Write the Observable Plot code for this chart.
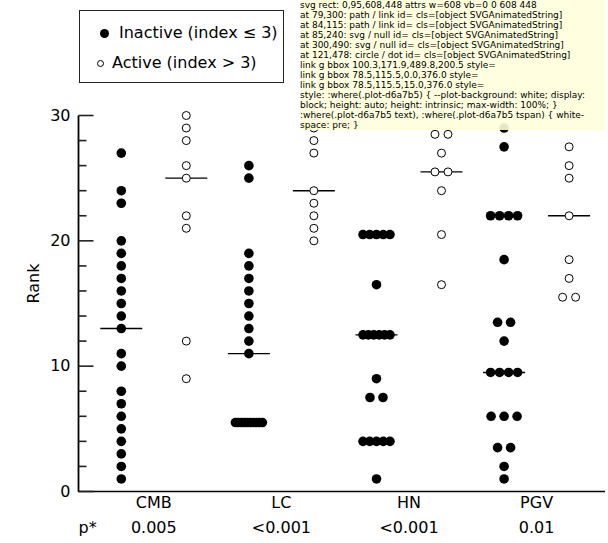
<!DOCTYPE html>
<html>
<head>
<meta charset="utf-8">
<script src="https://cdn.jsdelivr.net/npm/d3@7"></script>
<script src="https://cdn.jsdelivr.net/npm/@observablehq/plot@0.6"></script>
<style>
  html, body { margin: 0; padding: 0; background: #fff; }
  body { width: 608px; height: 543px; overflow: hidden; font-family: "DejaVu Sans", sans-serif; }
  #legend { position: relative; margin: 10px 0 12px 79px; width: 205px; height: 73px; box-sizing: border-box; border: 1px solid #222; }
  #legend .sym { position: absolute; border-radius: 50%; box-sizing: border-box; }
  #legend .lab { position: absolute; font-size: 16px; line-height: 20px; color: #000; white-space: nowrap; }
  #chart svg { display: block; }
  #dbg { position: absolute; left: 300px; top: 0; width: 305px; font-size: 9px; background: rgba(255,255,220,0.9); }
</style>
</head>
<body>
<div id="legend"></div>
<div id="chart"></div>
<div id="dbg"></div>
<script>
// ---- data (ranks) ----
const categories = ["CMB", "LC", "HN", "PGV"];
const pValues = ["0.005", "<0.001", "<0.001", "0.01"];
const statusLabels = ["Inactive (index \u2264 3)", "Active (index > 3)"];

const cmbInactive = [1, 2, 3, 4, 5, 6, 7, 8, 10, 11, 13, 14, 15, 16, 17, 18, 19, 20, 23, 24, 27];
const cmbActive = [9, 12, 21, 22, 25, 26, 28, 29, 30];
const lcInactive = [5.5, 5.5, 5.5, 5.5, 5.5, 5.5, 5.5, 5.5, 5.5, 5.5, 11, 12, 13, 14, 15, 16, 17, 18, 19, 25, 26];
const lcActive = [20, 21, 22, 23, 24, 27, 28, 29, 30];
const hnInactive = [1, 4, 4, 4, 4, 4, 7.5, 7.5, 9, 12.5, 12.5, 12.5, 12.5, 12.5, 12.5, 16.5, 20.5, 20.5, 20.5, 20.5, 20.5];
const hnActive = [16.5, 20.5, 24, 25.5, 25.5, 27, 28.5, 28.5, 30];
const pgvInactive = [1, 2, 3.5, 3.5, 6, 6, 6, 9.5, 9.5, 9.5, 9.5, 12, 13.5, 13.5, 18.5, 22, 22, 22, 22, 27.5, 29];
const pgvActive = [15.5, 15.5, 17, 18.5, 22, 25, 26, 27.5, 30];

const yTicks = [0, 10, 20, 30];
const yMinorTicks = [2, 4, 6, 8, 12, 14, 16, 18, 22, 24, 26, 28];

// ---- layout ----
const W = 608, H = 448;
const mLeft = 78, mRight = 3, mTop = 20, mBottom = 52;
const xDomain = [-0.59, 3.54];
const unit = (W - mLeft - mRight) / (xDomain[1] - xDomain[0]);
const statusOffset = 32.5 / unit;
const medianHalf = 21 / unit;
const majorLen = 15 / unit, minorLen = 8 / unit;

const groups = [
  [cmbInactive, cmbActive],
  [lcInactive, lcActive],
  [hnInactive, hnActive],
  [pgvInactive, pgvActive]
];

const points = [];
const medians = [];
groups.forEach((pair, gi) => {
  pair.forEach((vals, si) => {
    const center = gi + (si === 0 ? -statusOffset : statusOffset);
    const counts = d3.rollup(vals, v => v.length, d => d);
    const seen = new Map();
    vals.forEach(v => {
      const n = counts.get(v);
      const k = seen.get(v) || 0;
      seen.set(v, k + 1);
      const s = n > 1 ? Math.min(13, 27 / (n - 1)) : 0;
      const off = (k - (n - 1) / 2) * s / unit;
      points.push({cat: categories[gi], status: si, rank: v, x: center + off});
    });
    medians.push({cat: categories[gi], status: si, rank: d3.median(vals), x1: center - medianHalf, x2: center + medianHalf});
  });
});

const tickRows = [
  ...yTicks.map(v => ({y: v, x1: xDomain[0], x2: xDomain[0] + majorLen})),
  ...yMinorTicks.map(v => ({y: v, x1: xDomain[0], x2: xDomain[0] + minorLen}))
];
const axisLine = [{x: xDomain[0], y1: 0, y2: 30}];

let msg = "";
try {
const chart = Plot.plot({
  width: W,
  height: H,
  marginLeft: mLeft,
  marginRight: mRight,
  marginTop: mTop,
  marginBottom: mBottom,
  x: {domain: xDomain, axis: null},
  y: {domain: [0, 30], axis: null},
  marks: [
    Plot.axisY({ticks: yTicks, tickSize: 0, tickPadding: 8, fontSize: 16, fontFamily: "DejaVu Sans", label: null}),
    Plot.text(["Rank"], {frameAnchor: "left", rotate: -90, dx: -45, fontSize: 16, fontFamily: "DejaVu Sans"}),
    Plot.link(medians, {x1: "x1", x2: "x2", y1: "rank", y2: "rank", stroke: "#000", strokeWidth: 1.4}),
    Plot.dot(points.filter(d => d.status === 0), {x: "x", y: "rank", r: 4.8, fill: "#000", stroke: "none"}),
    Plot.dot(points.filter(d => d.status === 1), {x: "x", y: "rank", r: 4, fill: "#fff", stroke: "#000", strokeWidth: 1}),
    Plot.text(categories, {x: (d, i) => i, frameAnchor: "bottom", dy: 16, text: d => d, fontSize: 16, fontFamily: "DejaVu Sans"}),
    Plot.text(pValues, {x: (d, i) => i, frameAnchor: "bottom", dy: 41, text: d => d, fontSize: 16, fontFamily: "DejaVu Sans"}),
    Plot.text(["p*"], {frameAnchor: "bottom-left", dy: 41, fontSize: 16, fontFamily: "DejaVu Sans"}),
    Plot.ruleY([0], {stroke: "#000", strokeWidth: 1.3}),
    Plot.link(axisLine, {x1: "x", x2: "x", y1: "y1", y2: "y2", stroke: "#000", strokeWidth: 1.8}),
    Plot.link(tickRows, {x1: "x1", x2: "x2", y1: "y", y2: "y", stroke: "#222", strokeWidth: 1.6})
  ]
});
document.getElementById("chart").appendChild(chart);
const r = chart.getBoundingClientRect();
msg += "svg rect: " + [r.left, r.top, r.width, r.height].join(",") + " attrs w=" + chart.getAttribute("width") + " vb=" + chart.getAttribute("viewBox") + "<br>";
[[79, 300], [84, 115], [85, 240], [300, 490], [121, 478]].forEach(([px, py]) => {
  const el = document.elementFromPoint(px, py);
  msg += `at ${px},${py}: ${el ? el.tagName + " / " + (el.parentNode && el.parentNode.getAttribute ? el.parentNode.getAttribute("aria-label") : "") + " id=" + el.id + " cls=" + el.className : "null"}<br>`;
});
const lk = chart.querySelectorAll('g[aria-label="link"]');
lk.forEach(g => { const b = g.getBoundingClientRect(); msg += "link g bbox " + [b.left.toFixed(1), b.top.toFixed(1), b.width.toFixed(1), b.height.toFixed(1)].join(",") + " style=" + (g.getAttribute("style")||"") + "<br>"; });
const st = chart.querySelector("style");
msg += "style: " + (st ? st.textContent.slice(0, 400).replace(/</g, "&lt;") : "none");
} catch (e) { msg += "ERR " + e; }
document.getElementById("dbg").innerHTML = msg;

const legend = document.getElementById("legend");
legend.innerHTML = `
  <span class="sym" style="left:20px;top:18px;width:9px;height:9px;background:#000;"></span>
  <span class="lab" style="left:39px;top:12px;">${statusLabels[0]}</span>
  <span class="sym" style="left:17px;top:48.5px;width:7px;height:7px;border:1px solid #000;background:#fff;"></span>
  <span class="lab" style="left:32px;top:42px;">${statusLabels[1]}</span>
`;
</script>
</body>
</html>
